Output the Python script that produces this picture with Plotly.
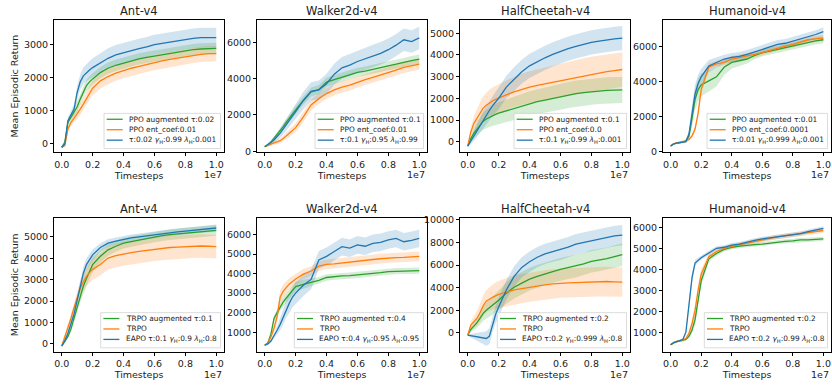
import plotly.graph_objects as go

# ---------------- data ----------------
X = [0, .02, .04, .06, .08, .10, .12, .14, .16, .18, .20, .25, .30, .35, .40,
     .45, .50, .55, .60, .65, .70, .75, .80, .85, .90, .95, 1.00]  # x 1e7 timesteps

x_ticks = [0.0, 0.2, 0.4, 0.6, 0.8, 1.0]

titles = ["Ant-v4", "Walker2d-v4", "HalfCheetah-v4", "Humanoid-v4",
          "Ant-v4", "Walker2d-v4", "HalfCheetah-v4", "Humanoid-v4"]

# ---- top row (PPO) ----
ant_ppo_aug = [-100, 50, 650, 820, 950, 1120, 1350, 1580, 1760, 1870, 1960, 2150, 2280, 2370, 2440, 2500, 2560, 2610, 2650, 2690, 2730, 2770, 2810, 2840, 2860, 2880, 2880]
ant_ppo_aug_sd = [30, 50, 80, 100, 120, 140, 150, 160, 170, 170, 170, 170, 170, 170, 170, 170, 170, 170, 170, 170, 170, 170, 170, 170, 170, 170, 170]
ant_ppo_ent = [-100, -50, 450, 650, 780, 900, 1050, 1200, 1370, 1540, 1680, 1900, 2030, 2130, 2210, 2280, 2340, 2400, 2450, 2500, 2550, 2590, 2630, 2670, 2700, 2720, 2720]
ant_ppo_ent_sd = [30, 40, 80, 100, 120, 150, 170, 190, 200, 210, 220, 230, 230, 230, 230, 230, 230, 230, 230, 230, 230, 230, 230, 230, 230, 230, 230]
ant_ppo_eapo = [-100, 0, 700, 900, 1050, 1550, 1870, 2050, 2150, 2230, 2300, 2450, 2580, 2680, 2750, 2800, 2870, 2920, 2990, 3030, 3070, 3110, 3150, 3180, 3200, 3210, 3200]
ant_ppo_eapo_sd = [30, 50, 100, 120, 150, 200, 230, 250, 260, 270, 280, 290, 300, 300, 300, 300, 300, 300, 300, 300, 300, 300, 300, 300, 300, 300, 300]

wal_ppo_aug = [250, 350, 500, 700, 900, 1110, 1350, 1600, 1850, 2080, 2280, 2800, 3270, 3400, 3810, 3950, 4080, 4200, 4350, 4420, 4530, 4620, 4710, 4800, 4920, 5000, 5080]
wal_ppo_aug_sd = [40, 60, 90, 110, 130, 150, 170, 180, 190, 200, 210, 230, 250, 250, 250, 250, 250, 250, 250, 250, 250, 250, 250, 250, 250, 250, 250]
wal_ppo_ent = [250, 330, 400, 460, 520, 580, 700, 850, 1000, 1150, 1300, 1900, 2550, 2900, 3180, 3380, 3540, 3650, 3810, 3950, 4080, 4200, 4350, 4480, 4620, 4720, 4800]
wal_ppo_ent_sd = [40, 60, 80, 100, 120, 150, 170, 190, 200, 220, 240, 270, 300, 300, 300, 300, 300, 300, 300, 300, 300, 300, 300, 300, 300, 300, 300]
wal_ppo_eapo = [250, 350, 480, 620, 800, 1000, 1230, 1450, 1700, 1950, 2190, 2800, 3300, 3380, 3720, 4250, 4600, 4750, 4950, 5100, 5250, 5400, 5600, 5850, 6150, 6050, 6250]
wal_ppo_eapo_sd = [50, 80, 120, 150, 200, 250, 300, 330, 360, 390, 420, 480, 500, 520, 550, 580, 600, 620, 620, 620, 620, 620, 620, 620, 620, 620, 620]

hc_ppo_aug = [-200, 150, 400, 600, 800, 950, 1050, 1130, 1200, 1260, 1320, 1430, 1550, 1650, 1770, 1850, 1920, 2000, 2070, 2150, 2220, 2260, 2300, 2340, 2370, 2380, 2390]
hc_ppo_aug_sd = [50, 150, 250, 300, 350, 400, 420, 450, 470, 490, 500, 520, 540, 550, 560, 570, 580, 590, 600, 600, 600, 600, 600, 600, 600, 600, 600]
hc_ppo_ent = [-200, 450, 850, 1100, 1320, 1550, 1680, 1800, 1880, 1950, 2000, 2160, 2300, 2420, 2520, 2600, 2670, 2750, 2820, 2900, 2970, 3050, 3120, 3180, 3230, 3280, 3330]
hc_ppo_ent_sd = [50, 200, 350, 450, 500, 550, 580, 600, 620, 640, 650, 680, 700, 720, 730, 740, 750, 760, 770, 780, 790, 800, 800, 800, 800, 800, 800]
hc_ppo_eapo = [-200, 40, 280, 520, 780, 1020, 1230, 1440, 1650, 1830, 2000, 2520, 2900, 3230, 3500, 3700, 3870, 4030, 4170, 4290, 4400, 4500, 4580, 4640, 4700, 4740, 4780]
hc_ppo_eapo_sd = [50, 150, 250, 300, 350, 400, 420, 450, 470, 480, 500, 520, 540, 550, 560, 560, 560, 560, 560, 560, 560, 560, 560, 560, 560, 560, 560]

hum_ppo_aug = [330, 450, 500, 520, 550, 620, 900, 1900, 3000, 3550, 3820, 4050, 4280, 4830, 5110, 5200, 5300, 5500, 5660, 5750, 5850, 5950, 6040, 6150, 6260, 6330, 6400]
hum_ppo_aug_sd = [30, 40, 50, 50, 60, 80, 200, 500, 600, 650, 650, 600, 550, 450, 350, 300, 250, 220, 200, 200, 200, 200, 200, 200, 200, 200, 200]
hum_ppo_ent = [330, 450, 510, 540, 580, 620, 700, 900, 1300, 2200, 3550, 4840, 5020, 5110, 5300, 5380, 5480, 5560, 5670, 5800, 5940, 6030, 6130, 6250, 6400, 6450, 6500]
hum_ppo_ent_sd = [30, 40, 50, 50, 60, 70, 90, 120, 180, 250, 250, 200, 180, 170, 170, 170, 170, 170, 170, 170, 170, 170, 170, 170, 170, 170, 170]
hum_ppo_eapo = [330, 450, 500, 520, 540, 580, 1000, 2200, 3300, 3900, 4280, 4900, 5110, 5300, 5390, 5450, 5570, 5700, 5850, 6000, 6130, 6200, 6320, 6450, 6590, 6700, 6870]
hum_ppo_eapo_sd = [30, 40, 50, 50, 60, 80, 250, 500, 550, 500, 450, 350, 300, 250, 250, 250, 250, 250, 250, 250, 250, 250, 250, 250, 250, 250, 250]

# ---- bottom row (TRPO) ----
ant_trpo_aug = [-100, 100, 350, 700, 1200, 1730, 2250, 2700, 3050, 3400, 3700, 4090, 4390, 4560, 4700, 4780, 4850, 4930, 5000, 5050, 5100, 5130, 5150, 5190, 5230, 5270, 5300]
ant_trpo_aug_sd = [30, 60, 100, 150, 200, 250, 300, 330, 350, 350, 340, 300, 280, 260, 250, 250, 250, 250, 250, 250, 250, 250, 250, 250, 250, 250, 250]
ant_trpo = [-100, 300, 750, 1200, 1700, 2190, 2600, 2900, 3150, 3330, 3480, 3710, 4010, 4120, 4200, 4260, 4320, 4370, 4420, 4460, 4500, 4520, 4540, 4560, 4570, 4560, 4540]
ant_trpo_sd = [30, 80, 150, 200, 250, 300, 350, 400, 450, 480, 500, 520, 540, 550, 550, 550, 550, 550, 550, 550, 550, 550, 550, 550, 550, 550, 550]
ant_trpo_eapo = [-100, 150, 500, 900, 1400, 2040, 2700, 3300, 3700, 3950, 4160, 4500, 4700, 4800, 4890, 4950, 5000, 5050, 5100, 5150, 5200, 5230, 5260, 5300, 5350, 5380, 5410]
ant_trpo_eapo_sd = [30, 60, 100, 150, 200, 250, 280, 300, 300, 280, 250, 200, 180, 170, 160, 160, 160, 160, 160, 160, 160, 160, 160, 160, 160, 160, 160]

wal_trpo_aug = [330, 450, 900, 1700, 2000, 2300, 2550, 2750, 2950, 3150, 3330, 3450, 3550, 3650, 3800, 3850, 3880, 3900, 3930, 3970, 4000, 4050, 4100, 4120, 4130, 4150, 4150]
wal_trpo_aug_sd = [30, 60, 100, 150, 180, 200, 220, 230, 240, 250, 250, 230, 200, 180, 170, 160, 160, 160, 160, 160, 160, 160, 160, 160, 160, 160, 160]
wal_trpo = [330, 450, 750, 1200, 1800, 2800, 3100, 3300, 3470, 3600, 3720, 3970, 4130, 4380, 4470, 4500, 4550, 4600, 4630, 4680, 4720, 4760, 4800, 4820, 4830, 4870, 4880]
wal_trpo_sd = [30, 60, 100, 200, 300, 350, 350, 330, 300, 280, 270, 260, 250, 250, 250, 250, 250, 250, 250, 250, 250, 250, 250, 250, 250, 250, 250]
wal_trpo_eapo = [330, 400, 550, 800, 1100, 1400, 1800, 2200, 2500, 2800, 3000, 3400, 3700, 4700, 4880, 5130, 5380, 5300, 5470, 5400, 5550, 5600, 5720, 5800, 5630, 5700, 5800]
wal_trpo_eapo_sd = [30, 50, 80, 120, 200, 300, 400, 450, 500, 520, 550, 550, 500, 450, 450, 450, 450, 450, 450, 450, 450, 450, 450, 450, 450, 450, 450]

hc_trpo_aug = [-200, 300, 600, 900, 1300, 1730, 2000, 2200, 2400, 2650, 2880, 3520, 4040, 4400, 4760, 5000, 5250, 5430, 5620, 5770, 5910, 6100, 6340, 6450, 6570, 6750, 6920]
hc_trpo_aug_sd = [50, 200, 350, 450, 550, 650, 700, 750, 800, 850, 900, 950, 1000, 1000, 1000, 1000, 1000, 1000, 1000, 1000, 1000, 1000, 1000, 1000, 1000, 1000, 1000]
hc_trpo = [-200, 700, 1000, 1300, 1800, 2400, 2800, 3000, 3150, 3280, 3400, 3600, 3800, 3920, 4050, 4150, 4250, 4330, 4400, 4420, 4450, 4480, 4500, 4530, 4550, 4520, 4500]
hc_trpo_sd = [50, 300, 500, 650, 800, 900, 1000, 1050, 1100, 1150, 1200, 1250, 1300, 1300, 1300, 1300, 1300, 1300, 1300, 1300, 1300, 1300, 1300, 1300, 1300, 1300, 1300]
hc_trpo_eapo = [-200, -250, -280, -320, -380, -450, -500, -300, 700, 1600, 2300, 3800, 5000, 5800, 6300, 6700, 7000, 7200, 7350, 7600, 7850, 8000, 8130, 8300, 8450, 8580, 8650]
hc_trpo_eapo_sd = [50, 150, 250, 350, 450, 550, 650, 700, 700, 750, 800, 850, 900, 900, 900, 900, 900, 900, 900, 900, 900, 900, 900, 900, 900, 900, 900]

hum_trpo_aug = [400, 500, 550, 580, 600, 650, 800, 1100, 1600, 2600, 3450, 4500, 4750, 4950, 5050, 5100, 5150, 5180, 5200, 5250, 5300, 5330, 5350, 5400, 5400, 5430, 5450]
hum_trpo_aug_sd = [20, 30, 40, 50, 60, 60, 80, 150, 250, 300, 250, 150, 120, 100, 100, 100, 100, 100, 100, 100, 100, 100, 100, 100, 100, 100, 100]
hum_trpo = [400, 500, 560, 600, 630, 700, 950, 1400, 2050, 3000, 3760, 4600, 4850, 5000, 5100, 5180, 5250, 5330, 5400, 5480, 5550, 5600, 5650, 5700, 5750, 5800, 5850]
hum_trpo_sd = [20, 30, 40, 50, 60, 70, 100, 200, 300, 300, 250, 150, 120, 110, 110, 110, 110, 110, 110, 110, 110, 110, 110, 110, 110, 110, 110]
hum_trpo_eapo = [400, 500, 550, 600, 650, 1000, 2300, 3600, 4300, 4450, 4550, 4780, 5000, 5050, 5150, 5200, 5300, 5380, 5450, 5500, 5560, 5600, 5650, 5700, 5800, 5880, 5950]
hum_trpo_eapo_sd = [20, 30, 40, 50, 60, 100, 200, 250, 150, 120, 100, 100, 100, 100, 100, 100, 100, 100, 100, 100, 100, 100, 100, 100, 100, 100, 100]

# legend labels
GH = "<i>γ</i><sub>H</sub>"
LH = "<i>λ</i><sub>H</sub>"
labels = [
    ["PPO augmented τ:0.02", "PPO ent_coef:0.01", f"τ:0.02 {GH}:0.99 {LH}:0.001"],
    ["PPO augmented τ:0.1", "PPO ent_coef:0.01", f"τ:0.1 {GH}:0.95 {LH}:0.99"],
    ["PPO augmented τ:0.1", "PPO ent_coef:0.0", f"τ:0.1 {GH}:0.99 {LH}:0.001"],
    ["PPO augmented τ:0.01", "PPO ent_coef:0.0001", f"τ:0.01 {GH}:0.999 {LH}:0.001"],
    ["TRPO augmented τ:0.1", "TRPO", f"EAPO τ:0.1 {GH}:0.9 {LH}:0.8"],
    ["TRPO augmented τ:0.4", "TRPO", f"EAPO τ:0.4 {GH}:0.95 {LH}:0.95"],
    ["TRPO augmented τ:0.2", "TRPO", f"EAPO τ:0.2 {GH}:0.999 {LH}:0.8"],
    ["TRPO augmented τ:0.2", "TRPO", f"EAPO τ:0.2 {GH}:0.99 {LH}:0.8"],
]

series = [
    [(ant_ppo_aug, ant_ppo_aug_sd), (ant_ppo_ent, ant_ppo_ent_sd), (ant_ppo_eapo, ant_ppo_eapo_sd)],
    [(wal_ppo_aug, wal_ppo_aug_sd), (wal_ppo_ent, wal_ppo_ent_sd), (wal_ppo_eapo, wal_ppo_eapo_sd)],
    [(hc_ppo_aug, hc_ppo_aug_sd), (hc_ppo_ent, hc_ppo_ent_sd), (hc_ppo_eapo, hc_ppo_eapo_sd)],
    [(hum_ppo_aug, hum_ppo_aug_sd), (hum_ppo_ent, hum_ppo_ent_sd), (hum_ppo_eapo, hum_ppo_eapo_sd)],
    [(ant_trpo_aug, ant_trpo_aug_sd), (ant_trpo, ant_trpo_sd), (ant_trpo_eapo, ant_trpo_eapo_sd)],
    [(wal_trpo_aug, wal_trpo_aug_sd), (wal_trpo, wal_trpo_sd), (wal_trpo_eapo, wal_trpo_eapo_sd)],
    [(hc_trpo_aug, hc_trpo_aug_sd), (hc_trpo, hc_trpo_sd), (hc_trpo_eapo, hc_trpo_eapo_sd)],
    [(hum_trpo_aug, hum_trpo_aug_sd), (hum_trpo, hum_trpo_sd), (hum_trpo_eapo, hum_trpo_eapo_sd)],
]

y_ticks = [
    [0, 1000, 2000, 3000],
    [0, 2000, 4000, 6000],
    [0, 1000, 2000, 3000, 4000, 5000],
    [0, 2000, 4000, 6000],
    [0, 1000, 2000, 3000, 4000, 5000],
    [1000, 2000, 3000, 4000, 5000, 6000],
    [0, 2000, 4000, 6000, 8000, 10000],
    [1000, 2000, 3000, 4000, 5000, 6000],
]
y_ranges = [
    [-256, 3744], [-70, 7260], [-495, 5630], [-40, 7550],
    [-365, 5882], [0, 6850], [-1670, 10180], [68, 6450],
]

# ---------------- styling / layout ----------------
W, H = 832, 387
COLORS = ["#2ca02c", "#ff7f0e", "#1f77b4"]
FILLS = ["rgba(44,160,44,0.2)", "rgba(255,127,14,0.2)", "rgba(31,119,180,0.2)"]
FONT = "DejaVu Sans"
TXT = "#222"

col_left = [54, 257, 460, 663]
col_right = [224, 427, 630, 831]
row_top = [16, 219]
row_bot = [152, 356]
legend_left = [104, 315, 514, 707, 100.7, 294.3, 497.3, 704.3]

fig = go.Figure()
annotations = []
shapes = []

def px(x):
    return x / W

def py(y):
    return 1 - y / H

for i in range(8):
    r, c = divmod(i, 4)
    k = "" if i == 0 else str(i + 1)
    xa, ya = "x" + k, "y" + k
    for j, (m, sd) in enumerate(series[i]):
        up = [a + b for a, b in zip(m, sd)]
        lo = [a - b for a, b in zip(m, sd)]
        fig.add_trace(go.Scatter(x=X + X[::-1], y=up + lo[::-1], fill="toself",
                                 fillcolor=FILLS[j], line=dict(width=0),
                                 hoverinfo="skip", showlegend=False,
                                 xaxis=xa, yaxis=ya))
    for j, (m, sd) in enumerate(series[i]):
        fig.add_trace(go.Scatter(x=X, y=m, mode="lines",
                                 line=dict(color=COLORS[j], width=1.3),
                                 name=labels[i][j], showlegend=False,
                                 xaxis=xa, yaxis=ya))
    axis_common = dict(showline=True, mirror=True, linecolor="black", linewidth=1,
                       ticks="outside", ticklen=3, tickwidth=0.8, tickcolor="black",
                       showgrid=False, zeroline=False,
                       tickfont=dict(family=FONT, size=9.5, color=TXT))
    fig.layout["xaxis" + k] = dict(
        axis_common, domain=[px(col_left[c]), px(col_right[c])], anchor=ya,
        range=[-0.05, 1.05], tickvals=x_ticks, tickformat=".1f",
        title=dict(text="Timesteps", font=dict(family=FONT, size=9.5, color=TXT), standoff=2))
    ydict = dict(axis_common, domain=[py(row_bot[r]), py(row_top[r])], anchor=xa,
                 range=y_ranges[i], tickvals=y_ticks[i], tickformat="d")
    if c == 0:
        ydict["title"] = dict(text="Mean Episodic Return",
                              font=dict(family=FONT, size=9.5, color=TXT), standoff=3)
    fig.layout["yaxis" + k] = ydict

    annotations.append(dict(text=titles[i], xref="paper", yref="paper",
                            x=px((col_left[c] + col_right[c]) / 2),
                            y=py(row_top[r] - 9), xanchor="center", yanchor="middle",
                            showarrow=False, font=dict(family=FONT, size=11.5, color=TXT)))
    annotations.append(dict(text="1e7", xref="paper", yref="paper",
                            x=px(col_right[c]), y=py(row_bot[r] + 23),
                            xanchor="right", yanchor="middle", showarrow=False,
                            font=dict(family=FONT, size=9.5, color=TXT)))
    bl = legend_left[i]
    br = col_right[c] - 3.5
    bb = row_bot[r] - 4
    bt = row_bot[r] - 40
    shapes.append(dict(type="rect", xref="paper", yref="paper",
                       x0=px(bl), x1=px(br), y0=py(bb), y1=py(bt),
                       line=dict(color="#d3d3d3", width=0.8),
                       fillcolor="rgba(255,255,255,0.85)", layer="above"))
    for j, dy in enumerate([6, 16.7, 27.4]):
        cy = bt + dy
        shapes.append(dict(type="line", xref="paper", yref="paper",
                           x0=px(bl + 2.7), x1=px(bl + 18.7), y0=py(cy), y1=py(cy),
                           line=dict(color=COLORS[j], width=1.3), layer="above"))
        annotations.append(dict(text=labels[i][j], xref="paper", yref="paper",
                                x=px(bl + 23), y=py(cy), xanchor="left", yanchor="middle",
                                showarrow=False,
                                font=dict(family=FONT, size=7.4, color=TXT)))

fig.update_layout(width=W, height=H, margin=dict(l=0, r=0, t=0, b=0),
                  paper_bgcolor="white", plot_bgcolor="white",
                  showlegend=False, annotations=annotations, shapes=shapes,
                  font=dict(family=FONT))

fig.write_html("out.html", config={"displayModeBar": False},
               post_script="document.body.style.margin='0';document.body.style.overflow='hidden';")
